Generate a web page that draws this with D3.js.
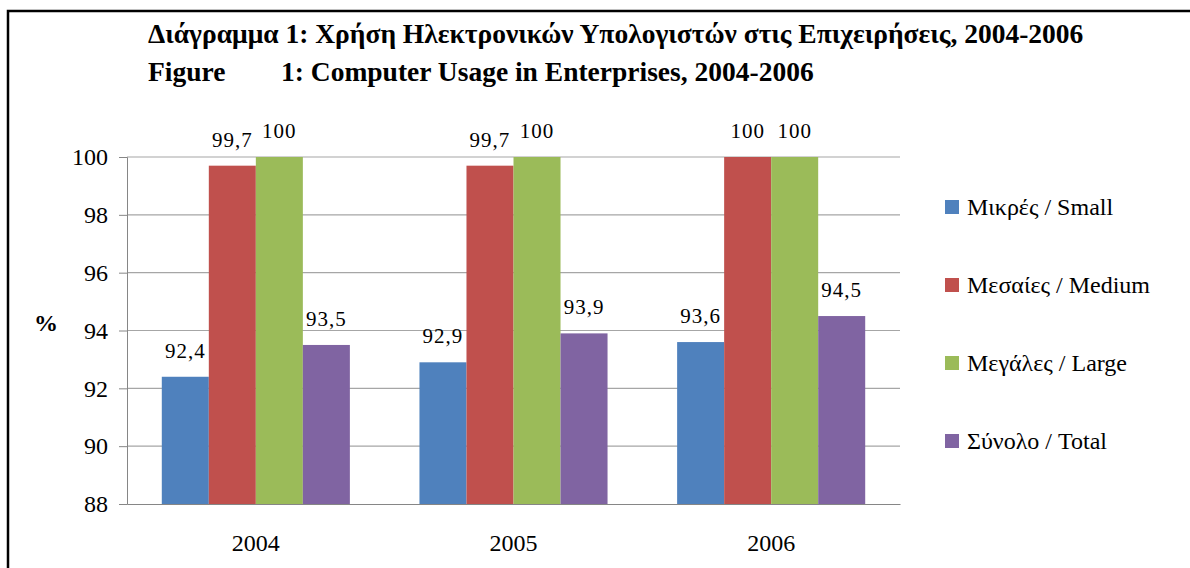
<!DOCTYPE html>
<html>
<head>
<meta charset="utf-8">
<script src="https://cdn.jsdelivr.net/npm/d3@7"></script>
</head>
<body style="margin:0">
<svg id="chart" width="1190" height="568"></svg>
<script>
// chart data
var years = ["2004", "2005", "2006"];
var seriesNames = ["Μικρές / Small", "Μεσαίες / Medium", "Μεγάλες / Large", "Σύνολο / Total"];
var small = [92.4, 92.9, 93.6];
var medium = [99.7, 99.7, 100];
var large = [100, 100, 100];
var total = [93.5, 93.9, 94.5];
var yTicks = [88, 90, 92, 94, 96, 98, 100];
var colors = ["#4f81bd", "#c0504d", "#9bbb59", "#8064a2"];

var allSeries = [small, medium, large, total];
var FONT = "Times New Roman";

var svg = d3.select("#chart");

// frame
svg.append("rect")
    .attr("x", 8).attr("y", 11)
    .attr("width", 1200).attr("height", 600)
    .attr("fill", "none")
    .attr("stroke", "#000")
    .attr("stroke-width", 2.5);

// title
svg.append("text").attr("x", 148).attr("y", 43)
    .style("font-family", FONT).attr("font-weight", "bold").attr("font-size", 27.5)
    .text("Διάγραμμα 1: Χρήση Ηλεκτρονικών Υπολογιστών στις Επιχειρήσεις, 2004-2006");
svg.append("text").attr("x", 148).attr("y", 81)
    .style("font-family", FONT).attr("font-weight", "bold").attr("font-size", 27.5)
    .text("Figure");
svg.append("text").attr("x", 281).attr("y", 81)
    .style("font-family", FONT).attr("font-weight", "bold").attr("font-size", 27.5)
    .text("1: Computer Usage in Enterprises, 2004-2006");

var x = d3.scaleBand().domain(years).range([127, 900]).padding(0);
var xInner = d3.scaleBand().domain(d3.range(4))
    .range([0, x.bandwidth()]).paddingInner(0).paddingOuter(0.74);
var y = d3.scaleLinear().domain([88, 100]).range([504, 157]);

// gridlines
svg.append("g").selectAll("line").data(yTicks.slice(1)).enter().append("line")
    .attr("x1", 127).attr("x2", 900)
    .attr("y1", function(d) { return y(d); })
    .attr("y2", function(d) { return y(d); })
    .attr("stroke", "#a6a6a6").attr("stroke-width", 1.2);

// y axis
var yAxis = svg.append("g").attr("transform", "translate(127,0)")
    .call(d3.axisLeft(y).tickValues(yTicks).tickSize(8).tickPadding(11));
yAxis.attr("font-family", FONT).attr("font-size", 24);
yAxis.select(".domain").attr("stroke", "#868686");
yAxis.selectAll(".tick line").attr("stroke", "#868686");
yAxis.selectAll("text").style("font-family", FONT).attr("font-size", 24).attr("fill", "#000");

// bars
var groups = svg.append("g").selectAll("g").data(allSeries).enter().append("g")
    .attr("fill", function(d, i) { return colors[i]; });

groups.selectAll("rect")
    .data(function(d, i) { return d.map(function(v, j) { return { s: i, year: years[j], v: v }; }); })
    .enter().append("rect")
    .attr("x", function(d) { return x(d.year) + xInner(d.s); })
    .attr("width", xInner.bandwidth())
    .attr("y", function(d) { return y(d.v); })
    .attr("height", function(d) { return y(88) - y(d.v); });

// x axis
var xAxis = svg.append("g").attr("transform", "translate(0,504)")
    .call(d3.axisBottom(x).tickSize(0).tickPadding(30));
xAxis.attr("font-family", FONT).attr("font-size", 24);
xAxis.select(".domain").attr("stroke", "#868686").attr("stroke-width", 1.2);
xAxis.selectAll("text").style("font-family", FONT).attr("font-size", 24).attr("fill", "#000");

// data labels
var fmt = function(v) { return String(v).replace(".", ","); };
groups.selectAll("text")
    .data(function(d, i) { return d.map(function(v, j) { return { s: i, year: years[j], v: v }; }); })
    .enter().append("text")
    .attr("x", function(d) { return x(d.year) + xInner(d.s) + xInner.bandwidth() / 2; })
    .attr("y", function(d) { return y(d.v) - 19; })
    .attr("text-anchor", "middle")
    .style("font-family", FONT)
    .attr("font-size", 21)
    .attr("letter-spacing", 1)
    .attr("fill", "#000")
    .text(function(d) { return fmt(d.v); });

// y axis title
svg.append("text").attr("x", 46).attr("y", 331)
    .attr("text-anchor", "middle")
    .style("font-family", FONT)
    .attr("font-weight", "bold").attr("font-size", 24)
    .text("%");

// legend
var legend = svg.append("g").selectAll("g").data(seriesNames).enter().append("g")
    .attr("transform", function(d, i) { return "translate(945," + (207 + i * 78) + ")"; });
legend.append("rect").attr("x", 0).attr("y", -7).attr("width", 14).attr("height", 14)
    .attr("fill", function(d, i) { return colors[i]; });
legend.append("text").attr("x", 22).attr("y", 8)
    .style("font-family", FONT)
    .attr("font-size", 24)
    .text(function(d) { return d; });
</script>
</body>
</html>
